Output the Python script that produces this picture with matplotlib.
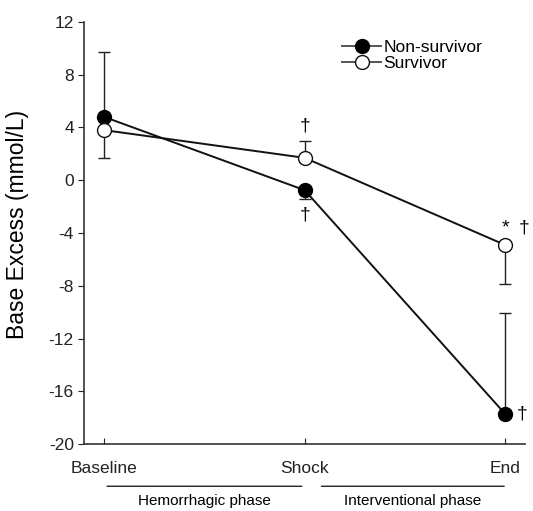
import matplotlib
matplotlib.use('Agg')
import matplotlib.pyplot as plt

plt.rcParams['font.family'] = ['Liberation Sans', 'DejaVu Sans']
plt.rcParams['axes.unicode_minus'] = False

timepoints = ['Baseline', 'Shock', 'End']
nonsurv = [4.8, -0.75, -17.7]
nonsurv_err = [4.9, 0.7, 7.6]     # one-sided SD
nonsurv_dir = [1, -1, 1]          # +1 = bar drawn upward, -1 = downward
surv = [3.8, 1.7, -4.9]
surv_err = [2.1, 1.3, 3.0]
surv_dir = [-1, 1, -1]

fig = plt.figure(figsize=(5.33, 5.11), dpi=100)
ax = fig.add_axes([0.158, 0.131, 0.827, 0.826])
x = list(range(len(timepoints)))

def errs(err, d):
    lo = [e if s < 0 else 0 for e, s in zip(err, d)]
    hi = [e if s > 0 else 0 for e, s in zip(err, d)]
    return [lo, hi]

ax.errorbar(x, nonsurv, yerr=errs(nonsurv_err, nonsurv_dir), fmt='none',
            ecolor='#222222', elinewidth=1, capsize=4, capthick=1, zorder=2)
ax.errorbar(x, surv, yerr=errs(surv_err, surv_dir), fmt='none',
            ecolor='#222222', elinewidth=1, capsize=4, capthick=1, zorder=2)
ax.plot(x, nonsurv, '-o', color='#111111', mfc='black', mec='black',
        ms=10, lw=1.4, label='Non-survivor', zorder=3)
ax.plot(x, surv, '-o', color='#111111', mfc='white', mec='#111111',
        ms=10, lw=1.4, label='Survivor', zorder=4)

# significance marks
ax.text(1, 3.5, '\u2020', ha='center', va='bottom', fontsize=14)
ax.text(1, -2.0, '\u2020', ha='center', va='top', fontsize=14)
ax.text(2, -3.6, '*', ha='center', va='center', fontsize=14)
ax.text(2.095, -3.6, '\u2020', ha='center', va='center', fontsize=14)
ax.text(2.085, -17.7, '\u2020', ha='center', va='center', fontsize=14)

ax.set_xlim(-0.1, 2.1)
ax.set_ylim(-20, 12)
ax.set_yticks(range(-20, 13, 4))
ax.set_xticks(x)
ax.set_xticklabels(timepoints, fontsize=12.5)
ax.tick_params(axis='y', labelsize=12.5, direction='out', length=4, colors='#222222')
ax.tick_params(axis='x', direction='in', length=4, pad=12, colors='#222222')
ax.set_ylabel('Base Excess (mmol/L)', fontsize=16.5)
ax.yaxis.set_label_coords(-0.126, 0.52)
ax.spines['top'].set_visible(False)
ax.spines['right'].set_visible(False)
for s in ['left', 'bottom']:
    ax.spines[s].set_linewidth(1.2)
    ax.spines[s].set_color('#333333')

leg = ax.legend(loc='upper left', bbox_to_anchor=(0.57, 0.975), frameon=False,
                fontsize=12.5, handlelength=2.2, handletextpad=0.15,
                borderaxespad=0, labelspacing=0.05)
for h in leg.get_lines():
    h.set_color('#555555')

# phase brackets below x axis
ax.annotate('', xy=(0, -0.1), xytext=(1, -0.1), xycoords=('data', 'axes fraction'),
            arrowprops=dict(arrowstyle='-', lw=1, color='#222222'))
ax.annotate('', xy=(1.07, -0.1), xytext=(2.01, -0.1), xycoords=('data', 'axes fraction'),
            arrowprops=dict(arrowstyle='-', lw=1, color='#222222'))
ax.text(0.5, -0.136, 'Hemorrhagic phase', ha='center', va='center', fontsize=11,
        transform=ax.get_xaxis_transform())
ax.text(1.54, -0.136, 'Interventional phase', ha='center', va='center', fontsize=11,
        transform=ax.get_xaxis_transform())

fig.savefig('out.png', dpi=100)
